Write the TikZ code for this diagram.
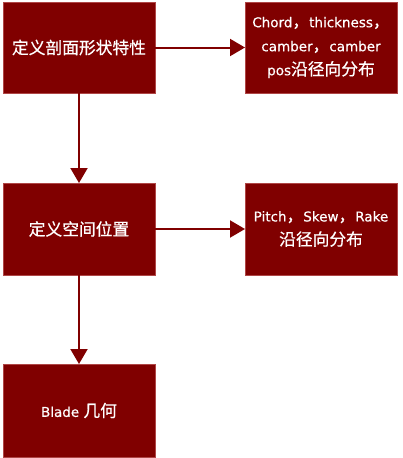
\documentclass[tikz,border=0pt]{standalone}
\usepackage{fontspec}
\setmainfont{DejaVu Sans}[FakeBold=0.5]
\newfontfamily\cjk[Scale=1.24,FakeBold=0.6]{Noto Sans CJK SC}
\usetikzlibrary{positioning,arrows.meta}
\definecolor{boxred}{RGB}{128,0,0}
\definecolor{boxedge}{RGB}{175,70,70}
\begin{document}
\begin{tikzpicture}[x=1pt,y=1pt,
  stepbox/.style={draw=boxedge, fill=boxred, line width=0.8pt, outer sep=0pt,
    minimum width=152pt, minimum height=91pt, inner sep=2pt, align=center,
    text=white, font=\fontsize{13.5pt}{24pt}\selectfont},
  flow/.style={draw=boxred, line width=2pt, -{Triangle[length=15pt,width=17pt]}},
  node distance=90pt]
  \useasboundingbox (0,0) rectangle (402,-458);
  \node[stepbox] (prof) at (79,-47.5) {{\cjk 定义剖面形状特性}};
  \node[stepbox, right=of prof] (chord) {Chord{\cjk ，}thickness{\cjk ，}\\camber{\cjk ，}camber\\pos{\cjk 沿径向分布}};
  \node[stepbox, below=of prof, minimum height=92pt] (place) {{\cjk 定义空间位置}};
  \node[stepbox, right=of place, minimum height=92pt] (pitch) {Pitch{\cjk ，}Skew{\cjk ，}Rake\\{\cjk 沿径向分布}};
  \node[stepbox, below=89pt of place, minimum height=93pt] (blade) {Blade {\cjk 几何}};
  % connectors
  \draw[flow] (prof) -- (chord);
  \draw[flow] (prof) -- (place);
  \draw[flow] (place) -- (pitch);
  \draw[flow] (place) -- (blade);
\end{tikzpicture}
\end{document}
